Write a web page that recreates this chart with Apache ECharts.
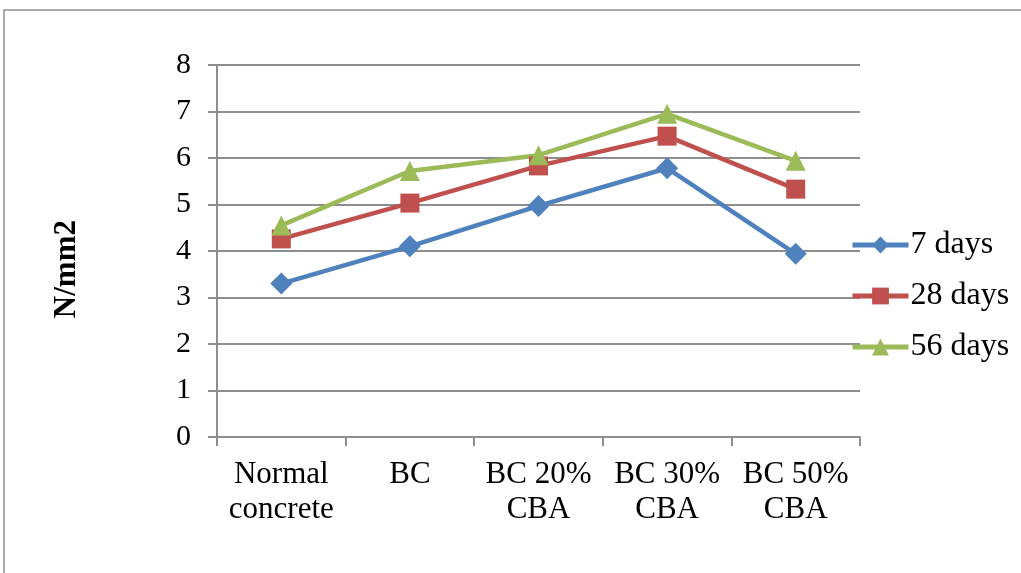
<!DOCTYPE html>
<html><head><meta charset="utf-8">
<script src="https://cdn.jsdelivr.net/npm/echarts@6/dist/echarts.min.js"></script>
<style>html,body{margin:0;padding:0;background:#fff}#c{width:1021px;height:573px}</style>
</head><body><div id="c"></div>
<script>
const categories = ['Normal\nconcrete', 'BC', 'BC 20%\nCBA', 'BC 30%\nCBA', 'BC 50%\nCBA'];
const days7 = [3.3, 4.1, 4.97, 5.78, 3.94];
const days28 = [4.26, 5.03, 5.83, 6.47, 5.33];
const days56 = [4.55, 5.72, 6.06, 6.95, 5.94];
const seriesNames = ['7 days', '28 days', '56 days'];
const axisName = 'N/mm2';

const font = 'Liberation Serif, Times New Roman, serif';
const gray = '#8e8e8e';
const chart = echarts.init(document.getElementById('c'));
chart.setOption({
  animation: false,
  backgroundColor: '#fff',
  graphic: [
    { type: 'rect', shape: { x: 4, y: 10, width: 1100, height: 700 }, style: { fill: 'none', stroke: gray, lineWidth: 1.5 }, silent: true },
    { type: 'text', left: 51, top: 220, rotation: Math.PI / 2, style: { text: axisName, font: 'bold 31px ' + font, fill: '#000' } }
  ],
  grid: { left: 217, right: 161, top: 65, bottom: 136 },
  legend: {
    orient: 'vertical', left: 850, top: 229, padding: 0, itemWidth: 56, itemHeight: 21, itemGap: 19,
    lineStyle: { width: 5 },
    textStyle: { fontFamily: font, fontSize: 32, lineHeight: 32, color: '#000', padding: [0, 0, 0, -3] },
    data: seriesNames
  },
  xAxis: {
    type: 'category', data: categories, boundaryGap: true,
    axisLine: { lineStyle: { color: gray, width: 2 } },
    axisTick: { show: true, length: 9, lineStyle: { color: gray, width: 2 } },
    axisLabel: { fontFamily: font, fontSize: 31, color: '#000', margin: 20, lineHeight: 35, interval: 0 }
  },
  yAxis: {
    type: 'value', min: 0, max: 8, interval: 1,
    axisLine: { show: true, lineStyle: { color: gray, width: 2 } },
    axisTick: { show: true, length: 9, lineStyle: { color: gray, width: 2 } },
    splitLine: { lineStyle: { color: gray, width: 2 } },
    axisLabel: { fontFamily: font, fontSize: 30, color: '#000', margin: 26 }
  },
  series: [
    { name: seriesNames[0], type: 'line', data: days7, symbol: 'diamond', symbolSize: 22, color: '#4F81BD', lineStyle: { width: 4.5 } },
    { name: seriesNames[1], type: 'line', data: days28, symbol: 'rect', symbolSize: 19, color: '#C0504D', lineStyle: { width: 4.5 } },
    { name: seriesNames[2], type: 'line', data: days56, symbol: 'triangle', symbolSize: 20, color: '#9BBB59', lineStyle: { width: 4.5 } }
  ]
});
</script></body></html>
